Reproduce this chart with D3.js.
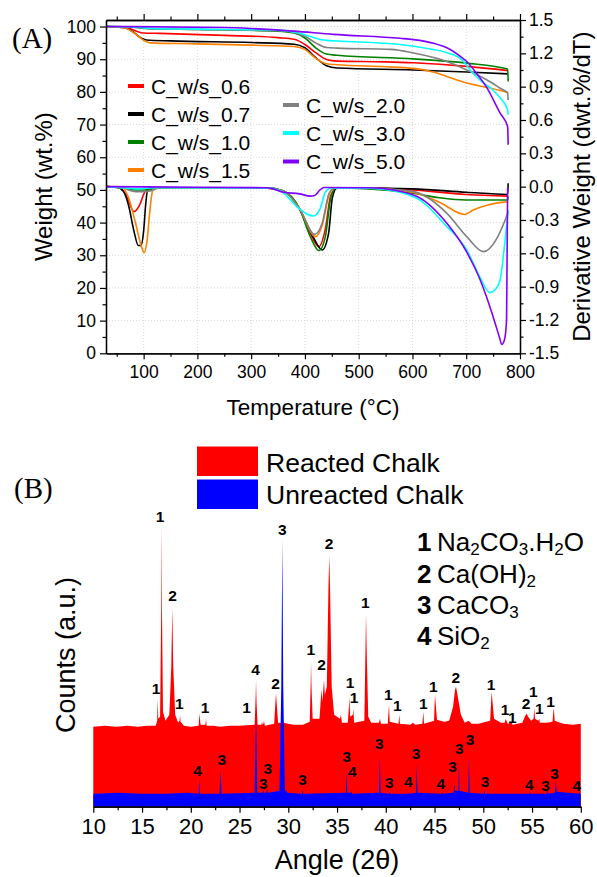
<!DOCTYPE html>
<html><head><meta charset="utf-8">
<script src="https://cdn.jsdelivr.net/npm/d3@7"></script>
<style>
body{margin:0;background:#fff;}
text{font-family:"Liberation Sans",Arial,sans-serif;fill:#000;}
</style>
</head><body>
<svg id="chart" width="597" height="877"></svg>
<script>
// ---------------- DATA (panel A) ----------------
const seriesNames  = ["C_w/s_0.6","C_w/s_0.7","C_w/s_1.0","C_w/s_1.5","C_w/s_2.0","C_w/s_3.0","C_w/s_5.0"];
const seriesColors = ["#ff0000","#000000","#008000","#ff8000","#808080","#00ffff","#8000ff"];

// TGA weight (wt.%) vs temperature (°C)
const tga_06 = [[30,100],[60,99.9],[75,99.3],[100,98.0],[130,97.9],[250,97.3],[350,96.6],[380,96.1],[400,94.5],[420,92.0],[440,89.9],[460,89.4],[550,89.2],[602,88.9],[701,87.8],[778,86.5]];
const tga_07 = [[30,100],[50,99.9],[65,99.6],[80,98.4],[95,96.5],[105,95.9],[150,95.6],[300,95.1],[380,94.6],[400,93.5],[420,90.5],[440,88.0],[460,87.3],[602,86.7],[701,86.1],[778,85.5]];
const tga_10 = [[30,100],[80,99.8],[110,99.3],[200,99.1],[350,98.6],[380,98.0],[400,96.5],[420,93.5],[440,91.6],[460,91.2],[602,90.1],[701,88.8],[777,87.0],[778,83.2]];
const tga_15 = [[30,100],[50,99.9],[65,99.6],[80,98.3],[100,95.8],[112,95.0],[200,94.7],[300,94.3],[380,93.9],[400,93.0],[420,90.3],[440,88.6],[460,88.3],[550,87.7],[602,87.2],[640,86.0],[664,84.7],[701,82.7],[738,81.4],[778,79.8]];
const tga_20 = [[30,100],[90,99.8],[110,99.3],[200,99.1],[350,98.7],[380,98.2],[400,97.0],[420,95.0],[440,93.6],[460,93.4],[560,93.0],[602,91.9],[664,89.3],[701,86.7],[738,83.7],[763,81.1],[777,79.6],[778,77.5]];
const tga_30 = [[30,100],[90,99.8],[115,99.4],[200,99.2],[350,98.9],[385,98.2],[405,97.2],[425,96.2],[445,95.7],[470,95.5],[577,94.5],[620,93.5],[664,92.0],[692,89.8],[711,86.0],[730,83.0],[750,80.5],[765,77.8],[777,74.5],[778,73.0]];
const tga_50 = [[30,100],[250,99.7],[300,99.4],[379,98.6],[453,97.6],[577,96.4],[602,96.0],[639,94.9],[664,93.5],[692,90.5],[701,89.3],[720,85.5],[738,81.4],[763,73.5],[777,69.4],[778,63.8]];

// DTG derivative weight (dwt.%/dT) vs temperature (°C)
const dtg_06 = [[30,0],[55,-0.01],[68,-0.08],[82,-0.225],[92,-0.17],[102,-0.05],[112,-0.01],[200,-0.012],[330,-0.015],[360,-0.04],[390,-0.2],[410,-0.42],[426,-0.54],[438,-0.38],[448,-0.08],[460,-0.015],[500,-0.01],[600,-0.03],[700,-0.07],[778,-0.085]];
const dtg_07 = [[30,0],[50,-0.005],[62,-0.04],[72,-0.17],[82,-0.4],[90,-0.53],[95,-0.53],[100,-0.4],[104,-0.15],[108,-0.02],[115,-0.01],[330,-0.01],[360,-0.04],[390,-0.2],[415,-0.45],[432,-0.57],[444,-0.42],[451,-0.1],[460,-0.01],[600,-0.02],[700,-0.05],[777,-0.07],[778,0.03]];
const dtg_10 = [[30,0],[60,-0.01],[85,-0.03],[110,-0.03],[130,-0.01],[330,-0.012],[360,-0.04],[390,-0.2],[410,-0.45],[426,-0.576],[438,-0.45],[448,-0.1],[458,-0.012],[520,-0.02],[600,-0.06],[650,-0.1],[700,-0.12],[777,-0.12],[778,-0.09]];
const dtg_15 = [[30,0],[60,-0.01],[72,-0.1],[85,-0.33],[96,-0.54],[101,-0.594],[106,-0.5],[112,-0.2],[117,-0.03],[125,-0.01],[330,-0.015],[360,-0.04],[390,-0.2],[420,-0.45],[432,-0.35],[445,-0.07],[455,-0.015],[500,-0.01],[600,-0.05],[650,-0.14],[697,-0.25],[713,-0.21],[740,-0.165],[778,-0.135]];
const dtg_20 = [[30,0],[60,-0.01],[85,-0.045],[110,-0.04],[130,-0.01],[330,-0.012],[360,-0.04],[390,-0.2],[418,-0.43],[432,-0.33],[445,-0.06],[455,-0.012],[520,-0.015],[602,-0.045],[664,-0.24],[701,-0.45],[732,-0.585],[757,-0.465],[770,-0.33],[778,-0.225]];
const dtg_30 = [[30,0],[60,-0.01],[90,-0.02],[120,-0.01],[330,-0.012],[355,-0.04],[385,-0.18],[405,-0.25],[416,-0.264],[428,-0.2],[438,-0.05],[448,-0.012],[520,-0.015],[602,-0.09],[664,-0.36],[701,-0.57],[726,-0.82],[744,-0.954],[755,-0.92],[763,-0.84],[771,-0.54],[778,-0.21]];
const dtg_50 = [[30,0],[200,-0.005],[330,-0.01],[340,-0.02],[360,-0.05],[390,-0.065],[410,-0.085],[418,-0.08],[428,-0.03],[435,-0.008],[520,-0.01],[602,-0.075],[664,-0.33],[701,-0.59],[726,-0.84],[750,-1.17],[762,-1.36],[766,-1.42],[771,-1.38],[775,-1.2],[776,-0.6],[777,-0.01]];

const tgaSeries = [tga_06,tga_07,tga_10,tga_15,tga_20,tga_30,tga_50];
const dtgSeries = [dtg_06,dtg_07,dtg_10,dtg_15,dtg_20,dtg_30,dtg_50];

const tempTicks   = [100,200,300,400,500,600,700,800];
const tempMinor   = [50,150,250,350,450,550,650,750];
const weightTicks = [0,10,20,30,40,50,60,70,80,90,100];
const weightMinor = [5,15,25,35,45,55,65,75,85,95];
const derivTicks  = [-1.5,-1.2,-0.9,-0.6,-0.3,0,0.3,0.6,0.9,1.2,1.5];
const derivMinor  = [-1.35,-1.05,-0.75,-0.45,-0.15,0.15,0.45,0.75,1.05,1.35];

// ---------------- DATA (panel B) ----------------
const legendB = ["Reacted Chalk","Unreacted Chalk"];
const colorsB = ["#ff0000","#0000ff"];
// XRD profile vertices [2θ, counts a.u.]
const reacted = [[10,80],[11.2,81],[12.4,80],[13.5,81],[14.6,80],[15.5,81],[16.4,81],[16.55,86],[16.6,108],[16.66,88],[16.85,90],[16.97,200],[17.0,282],[17.04,200],[17.15,95],[17.4,86],[17.8,92],[18.0,140],[18.1,199],[18.2,140],[18.4,92],[18.7,84],[18.85,86],[18.9,92],[18.95,85],[19.3,81],[20.0,80],[20.8,81],[20.9,93],[21.0,82],[21.5,82],[21.56,88],[21.62,81],[22.3,81],[23,80],[24,81],[25,81],[26.55,82],[26.65,110],[26.69,126],[26.74,105],[26.85,82],[27.25,82],[27.3,85],[27.38,82],[27.45,83],[27.5,86],[27.6,81],[28.55,83],[28.7,108],[28.74,113],[28.8,105],[28.95,84],[29.3,84],[29.4,92],[29.5,84],[30.5,82],[31.5,82],[32.2,85],[32.3,125],[32.33,145],[32.38,120],[32.5,88],[33.2,88],[33.35,110],[33.42,117],[33.5,105],[33.6,118],[33.66,127],[33.75,112],[33.95,120],[34.12,220],[34.2,251],[34.28,220],[34.45,120],[34.7,92],[35.3,88],[35.4,92],[35.5,84],[36.1,84],[36.22,100],[36.26,110],[36.35,90],[36.62,92],[36.67,98],[36.75,84],[37.8,86],[37.92,160],[37.97,193],[38.03,160],[38.2,90],[38.5,84],[39.3,84],[39.4,88],[39.5,83],[40.2,83],[40.3,98],[40.33,102],[40.4,85],[41.3,83],[41.38,92],[41.45,83],[42.5,82],[42.8,84],[43.0,82],[43.75,83],[43.85,95],[43.92,83],[44.95,86],[45.02,106],[45.05,112],[45.1,105],[45.25,87],[46.0,85],[46.5,86],[46.9,100],[47.1,117],[47.2,120],[47.35,112],[47.7,92],[48.1,84],[48.5,86],[48.8,83],[49.5,83],[50.7,86],[50.82,108],[50.86,115],[50.92,108],[51.1,88],[51.8,84],[52.2,84],[52.3,88],[52.5,83],[52.85,84],[52.9,85],[53.0,82],[53.5,83],[54.0,84],[54.3,91],[54.45,93],[54.6,90],[54.9,86],[55.15,88],[55.23,99],[55.3,88],[55.65,86],[55.74,88],[55.8,84],[56.5,84],[57.1,85],[57.2,97],[57.25,97],[57.32,86],[58.2,83],[59.2,82],[60,83]];
const unreacted = [[10,13],[12.5,14],[15,13],[17.5,13],[19.7,14],[20.8,13],[20.87,27],[20.94,13],[22.95,13],[23.05,37],[23.15,13],[26.55,14],[26.64,70],[26.69,88],[26.74,70],[26.82,14],[27.35,14],[27.42,17],[27.5,14],[27.75,14],[27.82,18],[27.9,14],[29.1,16],[29.28,120],[29.39,267],[29.48,120],[29.65,17],[29.9,14],[31.4,13],[31.47,17],[31.54,13],[35.9,14],[35.98,38],[36.05,14],[36.45,14],[36.5,16],[36.55,13],[39.3,14],[39.4,50],[39.47,14],[40.3,13],[40.36,15],[40.42,13],[42.4,13],[42.45,15],[42.5,13],[43.1,14],[43.17,43],[43.25,14],[45.75,13],[45.8,15],[45.85,13],[46.95,14],[47.03,23],[47.1,16],[47.44,16],[47.5,45],[47.56,16],[48.45,14],[48.53,50],[48.6,14],[50.05,13],[50.12,17],[50.2,13],[54.75,13],[54.8,15],[54.85,13],[56.5,13],[56.55,19],[56.62,13],[57.35,14],[57.43,25],[57.55,15],[59.85,13],[59.9,15],[59.95,13],[60,13]];
// peak labels [phase, 2θ, counts] (label centre)
const reactedLabels = [["1",16.43,118],["1",16.84,290],["2",18.14,211],["1",18.82,103],["1",21.46,99],["1",25.73,99],["4",26.65,137],["2",28.7,123],["1",32.3,157],["2",33.42,142],["2",34.17,263],["1",36.33,124],["1",36.74,109],["1",37.9,204],["1",40.26,112],["1",41.18,101],["1",43.85,103],["1",44.87,120],["2",47.17,129],["1",50.79,122],["1",52.23,97],["1",52.97,89],["2",54.38,103],["1",55.13,115],["1",55.74,98],["1",56.91,105]];
const unreactedLabels = [["4",20.7,36],["3",23.17,47],["3",27.44,23],["3",27.89,38],["3",29.39,277],["3",31.47,27],["3",36.0,50],["4",36.57,35],["3",39.33,63],["3",40.36,24],["4",42.31,25],["3",43.1,53],["4",45.63,23],["3",46.86,40],["3",47.54,58],["3",48.64,67],["3",50.17,25],["4",54.72,22],["3",56.39,21],["3",57.3,33],["4",59.6,21]];
const phaseNums = ["1","2","3","4"];
const phaseFormulas = [[["Na",0],["2",1],["CO",0],["3",1],[".H",0],["2",1],["O",0]],[["Ca(OH)",0],["2",1]],[["CaCO",0],["3",1]],[["SiO",0],["2",1]]];
const angleTicks = [10,15,20,25,30,35,40,45,50,55,60];
const angleMinor = [12.5,17.5,22.5,27.5,32.5,37.5,42.5,47.5,52.5,57.5];

// ---------------- DRAW ----------------
const svg = d3.select("#chart");

// ===== Panel A =====
const xT = d3.scaleLinear().domain([30,800]).range([106,520]);
const yW = d3.scaleLinear().domain([0,102]).range([353.3,20]);
const yD = d3.scaleLinear().domain([-1.5,1.5]).range([353.3,20]);

const gA = svg.append("g");
// grid
gA.append("g").selectAll("line").data(tempTicks.filter(d=>d<800)).join("line")
  .attr("x1",d=>xT(d)).attr("x2",d=>xT(d)).attr("y1",yW(102)).attr("y2",yW(0))
  .attr("stroke","#cfcfcf").attr("stroke-width",0.8).attr("stroke-dasharray","1,2");
gA.append("g").selectAll("line").data(weightTicks.filter(d=>d>0)).join("line")
  .attr("x1",xT(30)).attr("x2",xT(800)).attr("y1",d=>yW(d)).attr("y2",d=>yW(d))
  .attr("stroke","#cfcfcf").attr("stroke-width",0.8).attr("stroke-dasharray","1,2");

const lineW = d3.line().x(d=>xT(d[0])).y(d=>yW(d[1])).curve(d3.curveMonotoneX);
const lineD = d3.line().x(d=>xT(d[0])).y(d=>yD(d[1])).curve(d3.curveMonotoneX);
tgaSeries.forEach((s,i)=>gA.append("path").attr("d",lineW(s)).attr("fill","none").attr("stroke",seriesColors[i]).attr("stroke-width",1.6));
dtgSeries.forEach((s,i)=>gA.append("path").attr("d",lineD(s)).attr("fill","none").attr("stroke",seriesColors[i]).attr("stroke-width",1.6));

function styleAxis(g, fs){
  g.selectAll("text").style("font-size",fs+"px").style("font-family","'Liberation Sans',Arial,sans-serif").attr("fill","#000");
  g.selectAll("line").attr("stroke","#000").attr("stroke-width",1.2);
  g.select(".domain").attr("stroke","#000").attr("stroke-width",1.3);
}
const tfs = 17.5;
// bottom
styleAxis(gA.append("g").attr("transform",`translate(0,${yW(0)})`)
  .call(d3.axisBottom(xT).tickValues(tempTicks).tickSize(6).tickSizeOuter(0).tickPadding(6)),tfs);
styleAxis(gA.append("g").attr("transform",`translate(0,${yW(0)})`)
  .call(d3.axisBottom(xT).tickValues(tempMinor).tickSize(3.5).tickSizeOuter(0).tickFormat("")),tfs);
// top
styleAxis(gA.append("g").attr("transform",`translate(0,${yW(102)})`)
  .call(d3.axisTop(xT).tickValues(tempTicks).tickSize(6).tickSizeOuter(0).tickFormat("")),tfs);
styleAxis(gA.append("g").attr("transform",`translate(0,${yW(102)})`)
  .call(d3.axisTop(xT).tickValues(tempMinor).tickSize(3.5).tickSizeOuter(0).tickFormat("")),tfs);
// left
styleAxis(gA.append("g").attr("transform",`translate(${xT(30)},0)`)
  .call(d3.axisLeft(yW).tickValues(weightTicks).tickSize(6).tickSizeOuter(0).tickPadding(4)),tfs);
styleAxis(gA.append("g").attr("transform",`translate(${xT(30)},0)`)
  .call(d3.axisLeft(yW).tickValues(weightMinor).tickSize(3.5).tickSizeOuter(0).tickFormat("")),tfs);
// right
styleAxis(gA.append("g").attr("transform",`translate(${xT(800)},0)`)
  .call(d3.axisRight(yD).tickValues(derivTicks).tickSize(6).tickSizeOuter(0).tickPadding(3).tickFormat(d=>d.toFixed(1))),tfs);
styleAxis(gA.append("g").attr("transform",`translate(${xT(800)},0)`)
  .call(d3.axisRight(yD).tickValues(derivMinor).tickSize(3.5).tickSizeOuter(0).tickFormat("")),tfs);

// titles
gA.append("text").attr("x",(xT(30)+xT(800))/2).attr("y",415).attr("text-anchor","middle").style("font-size","22.5px").text("Temperature (\u00B0C)");
gA.append("text").attr("transform",`translate(52,${(yW(0)+yW(102))/2}) rotate(-90)`).attr("text-anchor","middle").style("font-size","24px").text("Weight (wt.%)");
gA.append("text").attr("transform",`translate(590,${(yW(0)+yW(102))/2}) rotate(-90)`).attr("text-anchor","middle").style("font-size","24px").text("Derivative Weight (dwt.%/dT)");
gA.append("text").attr("x",12).attr("y",48).style("font-family","'Liberation Serif','Times New Roman',serif").style("font-size","29px").text("(A)");

// legend A
const legPos = [[128,86],[128,114],[128,142],[128,170],[283,105],[283,133],[283,161.5]];
seriesNames.forEach((n,i)=>{
  const [lx,ly] = legPos[i];
  gA.append("line").attr("x1",lx).attr("x2",lx+16).attr("y1",ly).attr("y2",ly).attr("stroke",seriesColors[i]).attr("stroke-width",4);
  gA.append("text").attr("x",lx+23).attr("y",ly+7.5).style("font-size","21px").text(n);
});

// ===== Panel B =====
const xA = d3.scaleLinear().domain([10,60]).range([93.3,580.8]);
const yC = d3.scaleLinear().domain([0,320]).range([806.7,486.7]);
const gB = svg.append("g");
const area = d3.area().x(d=>xA(d[0])).y0(yC(0)).y1(d=>yC(d[1]));
gB.append("path").attr("d",area(reacted)).attr("fill",colorsB[0]);
gB.append("path").attr("d",area(unreacted)).attr("fill",colorsB[1]);

gB.append("g").selectAll("text").data(reactedLabels).join("text")
  .attr("x",d=>xA(d[1])).attr("y",d=>yC(d[2])).attr("dy","0.36em").attr("text-anchor","middle")
  .style("font-size","15.5px").style("font-weight","bold").text(d=>d[0]);
gB.append("g").selectAll("text").data(unreactedLabels).join("text")
  .attr("x",d=>xA(d[1])).attr("y",d=>yC(d[2])).attr("dy","0.36em").attr("text-anchor","middle")
  .style("font-size","15.5px").style("font-weight","bold").text(d=>d[0]);

styleAxis(gB.append("g").attr("transform",`translate(0,${yC(0)})`)
  .call(d3.axisBottom(xA).tickValues(angleTicks).tickSize(6).tickSizeOuter(0).tickPadding(6)),22);
styleAxis(gB.append("g").attr("transform",`translate(0,${yC(0)})`)
  .call(d3.axisBottom(xA).tickValues(angleMinor).tickSize(3.5).tickSizeOuter(0).tickFormat("")),22);

gB.append("text").attr("x",(xA(10)+xA(60))/2).attr("y",869).attr("text-anchor","middle").style("font-size","27px").text("Angle (2\u03B8)");
gB.append("text").attr("transform",`translate(75,655) rotate(-90)`).attr("text-anchor","middle").style("font-size","27px").text("Counts (a.u.)");
gB.append("text").attr("x",14).attr("y",498).style("font-family","'Liberation Serif','Times New Roman',serif").style("font-size","29px").text("(B)");

// legend B
legendB.forEach((n,i)=>{
  gB.append("rect").attr("x",197).attr("y",446.5+i*33).attr("width",61).attr("height",29.5).attr("fill",colorsB[i]);
  gB.append("text").attr("x",266).attr("y",472+i*31.5).style("font-size","26.5px").text(n);
});

// phase key
const keyBaselines = [551,583,614,645];
phaseNums.forEach((n,i)=>{
  const by = keyBaselines[i];
  gB.append("text").attr("x",417).attr("y",by).style("font-size","26px").style("font-weight","bold").text(n);
  const t = gB.append("text").attr("x",437).attr("y",by).style("font-size","26px");
  let sub=false;
  phaseFormulas[i].forEach(([s,isSub])=>{
    const ts = t.append("tspan").text(s);
    if(isSub && !sub){ ts.attr("dy",4).style("font-size","17px"); sub=true; }
    else if(isSub){ ts.style("font-size","17px"); }
    else if(!isSub && sub){ ts.attr("dy",-4); sub=false; }
  });
});
</script>
</body></html>
